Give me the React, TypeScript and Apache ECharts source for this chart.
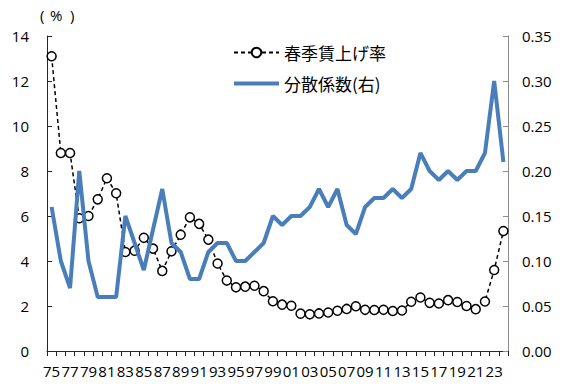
import React, { useEffect, useRef } from "react";
import * as echarts from "echarts";

const years: string[] = [
  "75","76","77","78","79","80","81","82","83","84",
  "85","86","87","88","89","90","91","92","93","94",
  "95","96","97","98","99","00","01","02","03","04",
  "05","06","07","08","09","10","11","12","13","14",
  "15","16","17","18","19","20","21","22","23","24",
];

const wageRate: number[] = [
  13.1, 8.8, 8.8, 5.9, 6.0, 6.74, 7.68, 7.01, 4.4, 4.46,
  5.03, 4.55, 3.56, 4.43, 5.17, 5.94, 5.65, 4.95, 3.89, 3.13,
  2.83, 2.86, 2.9, 2.66, 2.21, 2.06, 2.01, 1.66, 1.63, 1.67,
  1.71, 1.79, 1.87, 1.99, 1.83, 1.82, 1.83, 1.78, 1.8, 2.19,
  2.38, 2.14, 2.11, 2.26, 2.18, 2.0, 1.86, 2.2, 3.6, 5.33,
];

const dispersion: number[] = [
  0.16, 0.10, 0.07, 0.20, 0.10, 0.06, 0.06, 0.06, 0.15, 0.12,
  0.09, 0.135, 0.18, 0.12, 0.11, 0.08, 0.08, 0.11, 0.12, 0.12,
  0.10, 0.10, 0.11, 0.12, 0.15, 0.14, 0.15, 0.15, 0.16, 0.18,
  0.16, 0.18, 0.14, 0.13, 0.16, 0.17, 0.17, 0.18, 0.17, 0.18,
  0.22, 0.20, 0.19, 0.20, 0.19, 0.20, 0.20, 0.22, 0.30, 0.21,
];

const seriesNames = ["春季賃上げ率", "分散係数(右)"];

export default function App() {
  const ref = useRef<HTMLDivElement>(null);
  useEffect(() => {
    if (!ref.current) return;
    const chart = echarts.init(ref.current, undefined, { renderer: "svg" });
    const numFont = "Open Sans";
    const unitStyle = { fontSize: 15, fontFamily: "Open Sans", fill: "#000" };
    chart.setOption({
      animation: false,
      backgroundColor: "#fff",
      grid: { left: 47, right: 59, top: 36, bottom: 33 },
      graphic: [
        { type: "text", left: 40, top: 7, style: { ...unitStyle, text: "(" } },
        { type: "text", left: 50, top: 7, style: { ...unitStyle, text: "%" } },
        { type: "text", left: 70, top: 7, style: { ...unitStyle, text: ")" } },
      ],
      legend: {
        data: [
          { name: seriesNames[0] },
          { name: seriesNames[1], icon: "path://M0,0H45V4H0Z" },
        ],
        orient: "vertical",
        left: 228,
        top: 39,
        itemWidth: 45,
        itemHeight: 12,
        itemGap: 14,
        symbolKeepAspect: true,
        textStyle: {
          fontSize: 17,
          fontFamily: "Noto Sans CJK JP",
          color: "#000",
        },
      },
      xAxis: {
        type: "category",
        data: years,
        boundaryGap: true,
        axisLine: { lineStyle: { color: "#262626", width: 1 } },
        axisTick: {
          show: true,
          interval: 0,
          length: 5,
          lineStyle: { color: "#262626" },
        },
        axisLabel: {
          interval: 1,
          margin: 12,
          fontSize: 15,
          fontFamily: numFont,
          color: "#000",
        },
        splitLine: { show: false },
      },
      yAxis: [
        {
          type: "value",
          min: 0,
          max: 14,
          interval: 2,
          axisLine: { show: true, lineStyle: { color: "#262626" } },
          axisTick: {
            show: true,
            inside: true,
            length: 5,
            lineStyle: { color: "#262626" },
          },
          axisLabel: {
            margin: 18,
            fontSize: 15,
            fontFamily: numFont,
            color: "#000",
          },
          splitLine: { show: false },
        },
        {
          type: "value",
          min: 0,
          max: 0.35,
          interval: 0.05,
          position: "right",
          axisLine: { show: true, lineStyle: { color: "#8c8c8c" } },
          axisTick: {
            show: true,
            inside: true,
            length: 5,
            lineStyle: { color: "#8c8c8c" },
          },
          axisLabel: {
            margin: 14,
            fontSize: 15,
            fontFamily: numFont,
            color: "#000",
            formatter: (v: number) => v.toFixed(2),
          },
          splitLine: { show: false },
        },
      ],
      series: [
        {
          name: seriesNames[0],
          type: "line",
          yAxisIndex: 0,
          data: wageRate,
          symbol: "circle",
          symbolSize: 9,
          showSymbol: true,
          showAllSymbol: true,
          lineStyle: { color: "#000", width: 1.5, type: [4, 3] },
          itemStyle: { color: "#fff", borderColor: "#000", borderWidth: 1.5 },
          z: 2,
        },
        {
          name: seriesNames[1],
          type: "line",
          yAxisIndex: 1,
          data: dispersion,
          symbol: "none",
          lineStyle: { color: "#4A7EBB", width: 4 },
          itemStyle: { color: "#4A7EBB" },
          z: 3,
        },
      ],
    });
    return () => chart.dispose();
  }, []);
  return (
    <div
      ref={ref}
      style={{ position: "fixed", left: 0, top: 0, width: 567, height: 384 }}
    />
  );
}
